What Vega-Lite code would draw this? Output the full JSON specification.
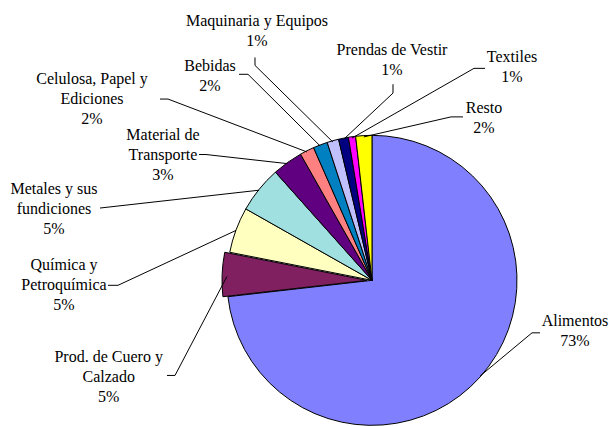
{
  "$schema": "https://vega.github.io/schema/vega-lite/v6.json",
  "width": 609,
  "height": 426,
  "autosize": {"type": "fit", "contains": "padding"},
  "padding": 0,
  "background": "white",
  "config": {"view": {"stroke": null}},
  "datasets": {
    "sectors": [
      {"sector": "Alimentos", "pct": 73.2, "idx": 1},
      {"sector": "Prod. de Cuero y Calzado", "pct": 4.9, "idx": 2},
      {"sector": "Química y Petroquímica", "pct": 5.1, "idx": 3},
      {"sector": "Metales y sus fundiciones", "pct": 5.2, "idx": 4},
      {"sector": "Material de Transporte", "pct": 3.4, "idx": 5},
      {"sector": "Celulosa, Papel y Ediciones", "pct": 1.6, "idx": 6},
      {"sector": "Bebidas", "pct": 1.6, "idx": 7},
      {"sector": "Maquinaria y Equipos", "pct": 1.3, "idx": 8},
      {"sector": "Prendas de Vestir", "pct": 1.1, "idx": 9},
      {"sector": "Textiles", "pct": 0.8, "idx": 10},
      {"sector": "Resto", "pct": 1.8, "idx": 11}
    ],
    "labels": [
      {"text": "Maquinaria y Equipos\n1%", "lx": -79.31, "ly": 180.21},
      {"text": "Bebidas\n2%", "lx": -111.72, "ly": 149.45},
      {"text": "Prendas de Vestir\n1%", "lx": 13.79, "ly": 160.69},
      {"text": "Textiles\n1%", "lx": 96.55, "ly": 155.38},
      {"text": "Resto\n2%", "lx": 77.24, "ly": 119.66},
      {"text": "Celulosa, Papel y\nEdiciones\n2%", "lx": -193.1, "ly": 140.0},
      {"text": "Material de\nTransporte\n3%", "lx": -144.14, "ly": 101.38},
      {"text": "Metales y sus\nfundiciones\n5%", "lx": -219.31, "ly": 63.66},
      {"text": "Química y\nPetroquímica\n5%", "lx": -212.41, "ly": 10.55},
      {"text": "Prod. de Cuero y\nCalzado\n5%", "lx": -181.59, "ly": -53.31},
      {"text": "Alimentos\n73%", "lx": 140.0, "ly": -28.07}
    ],
    "leaders": [
      {"id": "maq", "seq": 1, "x": -80.69, "y": 155.17},
      {"id": "maq", "seq": 2, "x": -80.69, "y": 149.66},
      {"id": "maq", "seq": 3, "x": -26.97, "y": 96.28},
      {"id": "beb", "seq": 1, "x": -91.72, "y": 143.45},
      {"id": "beb", "seq": 2, "x": -85.52, "y": 143.45},
      {"id": "beb", "seq": 3, "x": -35.66, "y": 93.45},
      {"id": "pre", "seq": 1, "x": 14.48, "y": 136.55},
      {"id": "pre", "seq": 2, "x": 14.48, "y": 130.34},
      {"id": "pre", "seq": 3, "x": -19.66, "y": 98.07},
      {"id": "tex", "seq": 1, "x": 77.93, "y": 147.59},
      {"id": "tex", "seq": 2, "x": 70.34, "y": 147.59},
      {"id": "tex", "seq": 3, "x": -13.79, "y": 99.03},
      {"id": "res", "seq": 1, "x": 62.76, "y": 113.79},
      {"id": "res", "seq": 2, "x": 54.48, "y": 113.79},
      {"id": "res", "seq": 3, "x": -5.66, "y": 99.86},
      {"id": "cel", "seq": 1, "x": -146.21, "y": 126.21},
      {"id": "cel", "seq": 2, "x": -140.69, "y": 126.21},
      {"id": "cel", "seq": 3, "x": -44.83, "y": 89.38},
      {"id": "mat", "seq": 1, "x": -119.31, "y": 87.59},
      {"id": "mat", "seq": 2, "x": -114.48, "y": 87.59},
      {"id": "mat", "seq": 3, "x": -58.28, "y": 81.24},
      {"id": "met", "seq": 1, "x": -187.59, "y": 50.34},
      {"id": "met", "seq": 2, "x": -77.86, "y": 62.76},
      {"id": "qui", "seq": 1, "x": -182.07, "y": -3.45},
      {"id": "qui", "seq": 2, "x": -175.17, "y": -3.45},
      {"id": "qui", "seq": 3, "x": -93.79, "y": 34.76},
      {"id": "pro", "seq": 1, "x": -141.38, "y": -66.21},
      {"id": "pro", "seq": 2, "x": -135.86, "y": -66.21},
      {"id": "pro", "seq": 3, "x": -100.0, "y": 2.76},
      {"id": "ali", "seq": 1, "x": 115.86, "y": -36.55},
      {"id": "ali", "seq": 2, "x": 110.34, "y": -36.55},
      {"id": "ali", "seq": 3, "x": 74.62, "y": -66.55}
    ]
  },
  "layer": [
    {
      "data": {"name": "sectors"},
      "mark": {"type": "arc", "outerRadius": 145, "stroke": "black", "strokeWidth": 1},
      "encoding": {
        "x": {"datum": 0, "type": "quantitative", "scale": {"domain": [-256.55, 163.45], "nice": false, "zero": false}, "axis": null},
        "y": {"datum": 0, "type": "quantitative", "scale": {"domain": [-98.62, 195.17], "nice": false, "zero": false}, "axis": null},
        "theta": {"field": "pct", "type": "quantitative", "stack": true},
        "order": {"field": "idx", "type": "quantitative"},
        "color": {
          "field": "sector", "type": "nominal", "legend": null,
          "scale": {
            "domain": ["Alimentos", "Prod. de Cuero y Calzado", "Química y Petroquímica", "Metales y sus fundiciones", "Material de Transporte", "Celulosa, Papel y Ediciones", "Bebidas", "Maquinaria y Equipos", "Prendas de Vestir", "Textiles", "Resto"],
            "range": ["#8080FF", "#802060", "#FFFFC0", "#A0E0E0", "#600080", "#FF8080", "#0080C0", "#C0C0FF", "#000080", "#FF00FF", "#FFFF00"]
          }
        },
        "opacity": {"condition": {"test": "datum.sector === 'Prod. de Cuero y Calzado'", "value": 0}, "value": 1}
      }
    },
    {
      "data": {"name": "sectors"},
      "mark": {"type": "arc", "outerRadius": 145, "stroke": "black", "strokeWidth": 1},
      "encoding": {
        "x": {"datum": -3.45, "type": "quantitative", "scale": {"domain": [-256.55, 163.45], "nice": false, "zero": false}, "axis": null},
        "y": {"datum": 0, "type": "quantitative", "scale": {"domain": [-98.62, 195.17], "nice": false, "zero": false}, "axis": null},
        "theta": {"field": "pct", "type": "quantitative", "stack": true},
        "order": {"field": "idx", "type": "quantitative"},
        "color": {"field": "sector", "type": "nominal", "legend": null},
        "opacity": {"condition": {"test": "datum.sector === 'Prod. de Cuero y Calzado'", "value": 1}, "value": 0}
      }
    },
    {
      "data": {"name": "leaders"},
      "mark": {"type": "line", "color": "black", "strokeWidth": 1},
      "encoding": {
        "x": {"field": "x", "type": "quantitative", "scale": {"domain": [-256.55, 163.45], "nice": false, "zero": false}, "axis": null},
        "y": {"field": "y", "type": "quantitative", "scale": {"domain": [-98.62, 195.17], "nice": false, "zero": false}, "axis": null},
        "detail": {"field": "id", "type": "nominal"},
        "order": {"field": "seq", "type": "quantitative"}
      }
    },
    {
      "data": {"name": "labels"},
      "mark": {"type": "text", "font": "'Liberation Serif', 'DejaVu Serif', serif", "fontSize": 16, "lineBreak": "\n", "lineHeight": 20, "align": "center", "baseline": "middle", "color": "black"},
      "encoding": {
        "x": {"field": "lx", "type": "quantitative", "scale": {"domain": [-256.55, 163.45], "nice": false, "zero": false}, "axis": null},
        "y": {"field": "ly", "type": "quantitative", "scale": {"domain": [-98.62, 195.17], "nice": false, "zero": false}, "axis": null},
        "text": {"field": "text", "type": "nominal"}
      }
    }
  ]
}
